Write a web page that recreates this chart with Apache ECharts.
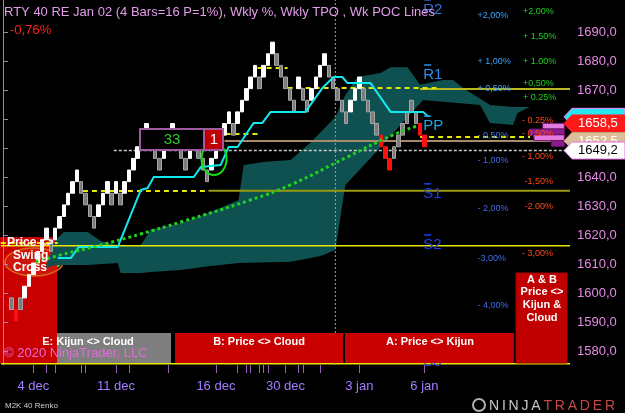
<!DOCTYPE html>
<html>
<head>
<meta charset="utf-8">
<script src="https://cdn.jsdelivr.net/npm/echarts@6/dist/echarts.min.js"></script>
<style>
  html, body { margin: 0; padding: 0; background: #000; }
  #chart { width: 625px; height: 413px; }
</style>
</head>
<body>
<div id="chart"></div>
<script>
// ---- data ----
const SLOTS = 131;                 // bar slots across the panel (bricks + empty future)
const BRICK = 4;                   // M2K 40 renko = 4.0 points
const dateLabelIdx = [7, 26, 49, 65, 82, 97];
const dateLabels = ['4 dec', '11 dec', '16 dec', '30 dec', '3 jan', '6 jan'];
const sessionTicks = [7, 10, 12, 18, 19, 26, 29, 38, 49, 54, 56, 57, 59, 60, 61, 65, 68, 69, 73, 82, 97];
const yTicks = [1580, 1590, 1600, 1610, 1620, 1630, 1640, 1650, 1660, 1670, 1680, 1690];

const firstBrick = 2;
// brick close values; kind: u = white up, d = grey down, g = grey up, r = red down
const brickClose = [
  1594.5, 1590.5, 1594.5, 1602.5, 1606.5, 1610.5, 1614.5, 1618.5, 1622.5, 1614.5,
  1622.5, 1626.5, 1630.5, 1634.5, 1638.5, 1642.5, 1634.5, 1630.5, 1626.5, 1622.5,
  1630.5, 1634.5, 1638.5, 1630.5, 1638.5, 1630.5, 1638.5, 1642.5, 1646.5, 1650.5,
  1654.5, 1658.5, 1650.5, 1646.5, 1642.5, 1650.5, 1654.5, 1658.5, 1650.5, 1646.5,
  1642.5, 1650.5, 1654.5, 1646.5, 1642.5, 1638.5, 1646.5, 1650.5, 1654.5, 1658.5,
  1662.5, 1654.5, 1662.5, 1666.5, 1670.5, 1674.5, 1678.5, 1670.5, 1678.5, 1682.5,
  1686.5, 1678.5, 1674.5, 1670.5, 1666.5, 1662.5, 1674.5, 1666.5, 1662.5, 1670.5,
  1674.5, 1678.5, 1682.5, 1674.5, 1670.5, 1666.5, 1662.5, 1658.5, 1666.5, 1670.5,
  1674.5, 1666.5, 1662.5, 1658.5, 1654.5, 1650.5, 1646.5, 1642.5, 1650.5, 1654.5,
  1658.5, 1662.5, 1666.5, 1658.5, 1654.5, 1650.5
];
const brickKind = (
  'drduuuuuud' + 'uuuuuudddd' + 'uuududuuuu' + 'uuddduuudd' + 'duuddduuuu' +
  'uduuuuuduu' + 'uddddduddu' + 'uuuddddduu' + 'uddddrrrgg' + 'gggdrr'
).split('');

// kijun-sen (corner points: slot index, price)
const kijunX = [12.6, 15.6, 17.4, 26.4, 31.7, 33.3, 34.7, 43.9, 45.5, 50.1, 51.9, 54.0, 57.7, 59.7, 61.6, 69.6, 73.5, 76.1, 78.1, 79.3, 84.6, 89.2, 96.7, 97.9];
const kijunY = [1612.2, 1612.2, 1616.0, 1616.0, 1635.6, 1636.3, 1640.1, 1640.1, 1643.5, 1644.2, 1650.4, 1650.4, 1658.7, 1658.7, 1662.5, 1662.5, 1670.7, 1674.5, 1674.5, 1672.4, 1672.4, 1662.5, 1662.5, 1660.8];

// green dotted trend
const trendX = [7.5, 13.3, 22.5, 31.7, 40.9, 57.0, 66.2, 79.3, 89.8, 95.4];
const trendY = [1610.9, 1613.3, 1616.7, 1620.5, 1624.6, 1632.2, 1637.4, 1647.0, 1654.6, 1657.7];

// ichimoku cloud outline: upper edge and lower edge
const cloudTopX = [9.8, 12.1, 14.0, 19.5, 22.5, 26.4, 31.7, 34.0, 40.9, 47.8, 54.2, 55.4, 60.4, 66.2, 70.8, 76.5, 78.8, 81.6, 86.9, 89.2, 93.1, 96.0, 101.3, 103.6, 105.9, 109.2, 112.1, 117.4, 121.3];
const cloudTopY = [1608.8, 1618.4, 1621.2, 1621.2, 1618.1, 1616.7, 1616.7, 1621.9, 1624.3, 1628.0, 1632.2, 1644.2, 1645.3, 1645.9, 1652.0, 1660.7, 1668.3, 1674.5, 1675.9, 1677.9, 1677.9, 1671.8, 1673.5, 1673.5, 1670.7, 1667.6, 1664.9, 1664.2, 1664.2];
const cloudBotX = [9.8, 12.1, 19.5, 26.4, 27.1, 31.7, 34.0, 40.9, 47.8, 54.2, 66.2, 73.1, 76.5, 78.8, 84.6, 91.5, 96.7, 109.8, 112.1, 117.4, 118.4, 121.3];
const cloudBotY = [1608.8, 1609.8, 1609.8, 1610.5, 1607.1, 1607.1, 1607.4, 1608.1, 1609.5, 1610.5, 1610.9, 1612.9, 1615.0, 1637.3, 1646.6, 1658.0, 1666.6, 1664.9, 1658.7, 1658.0, 1662.1, 1664.2];

// weekly POC segments
const pocFrom  = [-0.5, 18.4, 51.2, 58.6, 65.5, 96.0];
const pocTo    = [12.6, 47.3, 58.6, 65.5, 100.6, 121.3];
const pocLevel = [1617.4, 1635.3, 1654.9, 1677.6, 1670.7, 1653.9];

// pivots
const pivotNames  = ['R2', 'R1', 'PP', 'S1', 'S2', 'S3'];
const pivotLabelY = [1697.6, 1675.2, 1657.6, 1634.3, 1616.7, 1576.4];
const r1Level = 1670.4, s1Level = 1635.4, s2Level = 1616.4, s3Level = 1575.8;
const ppLevel = 1652.5, lastPrice = 1649.2, weekStart = 76.5;

// weekly percent levels
const bluePct   = ['+2,00%', '+ 1,00%', '+ 0,50%', '- 0,50%', '- 1,00%', '- 2,00%', '-3,00%', '- 4,00%', '- 5,00%'];
const bluePctY  = [1695.5, 1679.7, 1670.7, 1654.5, 1645.9, 1629.1, 1612.2, 1595.7, 1578.9];
const greenPct  = ['+2.00%', '+ 1,50%', '+ 1.00%', '+0,50%', '+ 0.25%'];
const greenPctY = [1696.9, 1688.6, 1680.0, 1672.1, 1667.6];
const redPct    = ['- 0.25%', '- 0,50%', '- 1,00%', '-1,50%', '-2.00%', '- 3,00%', '-4,00%'];
const redPctY   = [1659.4, 1655.2, 1647.0, 1638.7, 1629.8, 1613.6, 1597.4];

// price tags on the axis: kijun, last brick, pivot, last price
const tagValues = [1660.8, 1658.5, 1652.5, 1649.2];

// TPO profile rows near the right edge
const tpoLevel = [1657.6, 1655.6, 1653.6, 1651.6];
const tpoLen   = [5, 8, 7, 3];

// ---- styles ----
const tagFill   = ['#27e6ee', '#ff1a1a', '#dcbf98', '#ffffff'];
const tagStroke = ['#ff80ff', '#ff1a1a', '#c9a27e', '#e070e0'];
const tagInk    = ['#27e6ee', '#ffffff', '#ffffff', '#000000'];
const pivotColors = ['#2f6fe0', '#2a90f0', '#22a6e6', '#1d3df2', '#1d3df2', '#1d3df2'];
const brickStyle = {
  u: { color: '#ffffff', borderColor: '#ffffff' },
  d: { color0: '#7c7c7c', borderColor0: '#a6a6a6' },
  g: { color: '#7c7c7c', borderColor: '#a6a6a6' },
  r: { color0: '#ff1010', borderColor0: '#ff1010' }
};
const FONT = 'Liberation Sans, Arial, sans-serif';

const categories = Array.from({ length: SLOTS }, (_, i) => {
  const k = dateLabelIdx.indexOf(i);
  return k >= 0 ? dateLabels[k] : '';
});
const tickSet = new Set(sessionTicks);

const brickData = Array(SLOTS).fill('-');
brickClose.forEach((c, i) => {
  const kind = brickKind[i];
  const up = kind === 'u' || kind === 'g';
  const open = up ? c - BRICK : c + BRICK;
  brickData[firstBrick + i] = {
    value: [open, c, Math.min(open, c), Math.max(open, c)],
    itemStyle: brickStyle[kind]
  };
});

const fmt = v => v.toFixed(1).replace('.', ',');

function segment(x0, x1, v, lineStyle, z) {
  return {
    type: 'line', xAxisIndex: 1, yAxisIndex: 0, silent: true,
    data: [[x0, v], [x1, v]], symbol: 'none', lineStyle: lineStyle, z: z || 2
  };
}

function textSeries(xs, ys, texts, color, font, align, z, overbar) {
  return {
    type: 'custom', xAxisIndex: 1, yAxisIndex: 0, silent: true, z: z || 6,
    data: ys.map((y, i) => [Array.isArray(xs) ? xs[i] : xs, y, i]),
    renderItem: (params, api) => {
      const i = api.value(2);
      const p = api.coord([api.value(0), api.value(1)]);
      const fill = Array.isArray(color) ? color[i] : color;
      const label = {
        type: 'text', x: p[0], y: p[1],
        style: { text: texts[i], fill: fill, font: font, align: align, verticalAlign: 'middle' }
      };
      if (!overbar) return label;
      return {
        type: 'group',
        children: [label, { type: 'line', shape: { x1: p[0] + 1, y1: p[1] - 10, x2: p[0] + 8, y2: p[1] - 10 }, style: { stroke: fill, lineWidth: 1.5 } }]
      };
    }
  };
}

const series = [
  // cloud
  {
    type: 'custom', xAxisIndex: 1, yAxisIndex: 0, silent: true, z: 1,
    data: [[0, 1600]],
    renderItem: (params, api) => {
      const pts = cloudTopX.map((x, i) => api.coord([x, cloudTopY[i]]));
      for (let i = cloudBotX.length - 1; i >= 0; i--) pts.push(api.coord([cloudBotX[i], cloudBotY[i]]));
      return { type: 'polygon', shape: { points: pts }, style: { fill: '#0f5050' } };
    }
  },
  // pivot / level lines
  segment(-0.5, SLOTS - 0.5, s2Level, { color: '#e6e600', width: 1.5 }),
  segment(-0.5, SLOTS - 0.5, s3Level, { color: '#e6e600', width: 1.5 }),
  segment(47.3, SLOTS - 0.5, s1Level, { color: '#9a9a10', width: 2 }),
  segment(96, SLOTS - 0.5, r1Level, { color: '#b8b820', width: 2 }),
  segment(51, SLOTS - 0.5, ppLevel, { color: '#a88a6a', width: 2 }),
  segment(25.5, SLOTS - 0.5, lastPrice, { color: '#c8c8c8', width: 1.5, type: [3, 2] }),
  ...pocFrom.map((f, i) => segment(f, pocTo[i], pocLevel[i], { color: '#e8e800', width: 2, type: [5, 4] }, 2)),
  // week separator
  {
    type: 'line', xAxisIndex: 1, yAxisIndex: 0, silent: true, symbol: 'none', z: 2,
    data: [[weekStart, 1575.4], [weekStart, 1701]],
    lineStyle: { color: '#9a9a9a', width: 1, type: [2, 2] }
  },
  // renko bricks
  {
    type: 'candlestick', xAxisIndex: 0, yAxisIndex: 0, data: brickData,
    barWidth: 4, z: 3, silent: true, itemStyle: { borderWidth: 1 }
  },
  // kijun
  {
    type: 'line', xAxisIndex: 1, yAxisIndex: 0, silent: true, symbol: 'none', z: 4,
    data: kijunX.map((x, i) => [x, kijunY[i]]),
    lineStyle: { color: '#12e8f0', width: 2 }
  },
  // green dotted trend
  {
    type: 'line', xAxisIndex: 1, yAxisIndex: 0, silent: true, symbol: 'none', z: 5, smooth: true,
    data: trendX.map((x, i) => [x, trendY[i]]),
    lineStyle: { color: '#1ed21e', width: 3, type: [3, 3] }
  },
  // TPO rows
  {
    type: 'custom', xAxisIndex: 1, yAxisIndex: 0, silent: true, z: 5,
    data: tpoLevel.map((v, i) => [129.2 - tpoLen[i], v, 129.2, i]),
    renderItem: (params, api) => {
      const a = api.coord([api.value(0), api.value(1) + 1]);
      const b = api.coord([api.value(2), api.value(1) - 1]);
      return {
        type: 'rect', shape: { x: a[0], y: a[1], width: b[0] - a[0], height: b[1] - a[1] },
        style: { fill: api.value(3) % 2 ? '#8c1c8c' : '#e27ae2', stroke: '#6a106a', lineWidth: 1 }
      };
    }
  },
  textSeries(109.2, bluePctY, bluePct, ['#3ca4ff', '#3ca4ff', '#3ca4ff', '#3f78f0', '#3f6cf0', '#3f6cf0', '#3f6cf0', '#3f6cf0', '#3f6cf0'], '9px ' + FONT, 'left'),
  textSeries(119.7, greenPctY, greenPct, '#22d022', '9px ' + FONT, 'left'),
  textSeries(126.6, redPctY, redPct, '#ff4a18', '9px ' + FONT, 'right'),
  textSeries(96.7, pivotLabelY, pivotNames, pivotColors, '15px ' + FONT, 'left', 7, true),
  // price tags
  {
    type: 'custom', xAxisIndex: 1, yAxisIndex: 0, silent: true, z: 20,
    data: tagValues.map((v, i) => [0, v, i]),
    renderItem: (params, api) => {
      const i = api.value(2);
      const y = api.coord([0, api.value(1)])[1];
      const cs = params.coordSys;
      const x0 = cs.x + cs.width;
      const h = 8.5;
      return {
        type: 'group',
        children: [
          {
            type: 'polygon',
            shape: { points: [[x0 - 6, y], [x0 + 2, y - h], [625, y - h], [625, y + h], [x0 + 2, y + h]] },
            style: { fill: tagFill[i], stroke: tagStroke[i], lineWidth: 1 }
          },
          {
            type: 'text', x: x0 + 8, y: y,
            style: { text: fmt(tagValues[i]), fill: tagInk[i], font: '13px ' + FONT, verticalAlign: 'middle' }
          }
        ]
      };
    }
  }
];

const boxText = (text, x, y, align) => ({
  type: 'text', z: 101, silent: true, x: x, y: y,
  style: { text: text, fill: '#ffffff', font: 'bold 11px ' + FONT, align: align || 'center', verticalAlign: 'middle' }
});

const graphic = [
  // lower-left signal panels (behind the bricks)
  { type: 'rect', z: 0, silent: true, shape: { x: 0, y: 333, width: 171, height: 30 }, style: { fill: '#7f7f7f' } },
  { type: 'ellipse', z: 0, silent: true, shape: { cx: 48, cy: 259, rx: 14, ry: 10 }, style: { fill: null, stroke: '#10e010', lineWidth: 2 } },
  { type: 'rect', z: 0, silent: true, shape: { x: 0, y: 237, width: 57, height: 126 }, style: { fill: '#c80000' } },
  { type: 'ellipse', z: 0, silent: true, shape: { cx: 34, cy: 262, rx: 29, ry: 14 }, style: { fill: 'rgba(255,140,80,0.15)', stroke: '#d86a20', lineWidth: 1.5 } },
  // signal boxes on top
  { type: 'rect', z: 100, silent: true, shape: { x: 175, y: 333, width: 168, height: 30 }, style: { fill: '#c80000' } },
  { type: 'rect', z: 100, silent: true, shape: { x: 345, y: 333, width: 169, height: 30 }, style: { fill: '#c80000' } },
  { type: 'rect', z: 100, silent: true, shape: { x: 516, y: 273, width: 51, height: 90 }, style: { fill: '#c00000', stroke: '#a00000', lineWidth: 1 } },
  boxText('B: Price <> Cloud', 259, 342),
  boxText('A: Price <> Kijun', 430, 342),
  boxText('A & B', 542, 280),
  boxText('Price <>', 542, 292),
  boxText('Kijun &', 542, 305),
  boxText('Cloud', 542, 318),
  boxText('E: Kijun <> Cloud', 88, 342),
  { type: 'text', z: 101, silent: true, x: 7, y: 243, style: { text: 'Price <>', fill: '#fff', font: 'bold 12px ' + FONT, verticalAlign: 'middle' } },
  { type: 'text', z: 101, silent: true, x: 13, y: 256, style: { text: 'Swing', fill: '#fff', font: 'bold 12px ' + FONT, verticalAlign: 'middle' } },
  { type: 'text', z: 101, silent: true, x: 13, y: 268, style: { text: 'Cross', fill: '#fff', font: 'bold 12px ' + FONT, verticalAlign: 'middle' } },
  { type: 'text', z: 102, silent: true, x: 4, y: 353, style: { text: '\u00a9 2020 NinjaTrader, LLC', fill: '#e36ad9', font: '13px ' + FONT, verticalAlign: 'middle' } },
  // swing counter box
  { type: 'ellipse', z: 8, silent: true, shape: { cx: 214, cy: 159, rx: 12.5, ry: 16 }, style: { fill: null, stroke: '#10e010', lineWidth: 2 } },
  { type: 'rect', z: 9, silent: true, shape: { x: 140, y: 129, width: 64, height: 21 }, style: { fill: '#000', stroke: '#a05aa0', lineWidth: 2 } },
  { type: 'rect', z: 9, silent: true, shape: { x: 204, y: 129, width: 19, height: 21 }, style: { fill: '#c00000', stroke: '#a05aa0', lineWidth: 2 } },
  { type: 'text', z: 10, silent: true, x: 172, y: 140, style: { text: '33', fill: '#2ec82e', font: '15px ' + FONT, align: 'center', verticalAlign: 'middle' } },
  { type: 'text', z: 10, silent: true, x: 214, y: 140, style: { text: '1', fill: '#fff', font: '15px ' + FONT, align: 'center', verticalAlign: 'middle' } },
  // header
  { type: 'text', z: 50, silent: true, x: 4, y: 12, style: { text: 'RTY 40 RE Jan 02 (4 Bars=16 P=1%), Wkly %, Wkly TPO , Wk POC Lines', fill: '#e49ce8', font: '13px ' + FONT, verticalAlign: 'middle' } },
  { type: 'text', z: 50, silent: true, x: 10, y: 30, style: { text: '-0,76%', fill: '#ff2020', font: '13px ' + FONT, verticalAlign: 'middle' } },
  // footer
  { type: 'text', z: 50, silent: true, x: 5, y: 406, style: { text: 'M2K 40 Renko', fill: '#cfcfcf', font: '8px ' + FONT, verticalAlign: 'middle' } },
  { type: 'circle', z: 50, silent: true, shape: { cx: 479, cy: 405, r: 6 }, style: { fill: null, stroke: '#b0b0b0', lineWidth: 2 } },
  {
    type: 'text', z: 50, silent: true, x: 489, y: 406,
    style: {
      text: '{a|N\u2009I\u2009N\u2009J\u2009A\u2009}{b|T\u2009R\u2009A\u2009D\u2009E\u2009R}', verticalAlign: 'middle',
      rich: { a: { fill: '#c8c8c8', font: '14px ' + FONT }, b: { fill: '#c84848', font: '14px ' + FONT } }
    }
  }
];

const option = {
  backgroundColor: '#000000',
  animation: false,
  grid: { left: 0, right: 55, top: 0, bottom: 48 },
  xAxis: [
    {
      type: 'category', data: categories, boundaryGap: true,
      axisLine: { show: false },
      axisTick: { show: true, alignWithLabel: true, length: 8, interval: i => tickSet.has(i), lineStyle: { color: '#9b5fc0' } },
      axisLabel: { interval: 0, color: '#a57cff', fontSize: 13, fontFamily: FONT, margin: 15 },
      splitLine: { show: false }
    },
    { type: 'value', min: -0.5, max: SLOTS - 0.5, show: false }
  ],
  yAxis: {
    type: 'value', position: 'right', min: 1575.4, max: 1701,
    axisLine: { show: true, lineStyle: { color: '#b27ab8', width: 1 } },
    axisTick: { show: true, length: 5, customValues: yTicks, lineStyle: { color: '#b27ab8' } },
    axisLabel: { customValues: yTicks, color: '#e68ae6', fontSize: 13, fontFamily: FONT, margin: 7, formatter: fmt },
    splitLine: { show: false }
  },
  series: series,
  graphic: graphic
};

const chart = echarts.init(document.getElementById('chart'));
chart.setOption(option);
</script>
</body>
</html>
